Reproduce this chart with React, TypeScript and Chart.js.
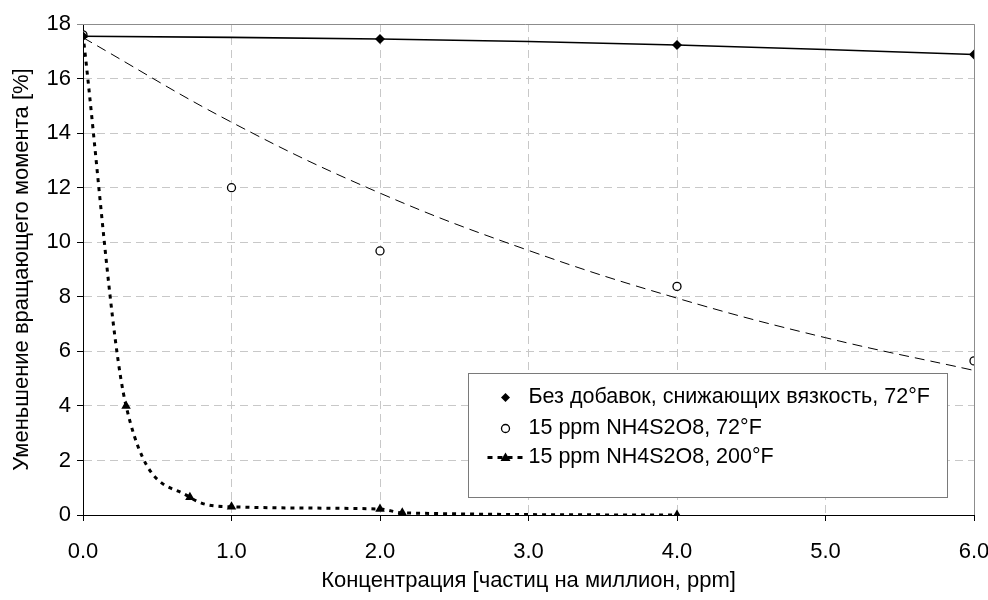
import React, { useEffect, useRef } from "react";
import { Chart, registerables } from "chart.js";

Chart.register(...registerables);

// ---- Data ----
const seriesLabels = [
  "Без добавок, снижающих вязкость, 72°F",
  "15 ppm NH4S2O8, 72°F",
  "15 ppm NH4S2O8, 200°F",
];
const xAxisTitle = "Концентрация [частиц на миллион, ppm]";
const yAxisTitle = "Уменьшение вращающего момента [%]";

const noAdditiveX = [0, 2, 4, 6];
const noAdditiveY = [17.55, 17.45, 17.23, 16.88];

const ppm72X = [0, 1, 2, 4, 6];
const ppm72Y = [17.6, 12.0, 9.68, 8.38, 5.65];

// dashed trend line for the 72°F series, read at each integer
const trend72X = [0, 1, 2, 3, 4, 5, 6];
const trend72Y = [17.5, 14.4, 11.8, 9.7, 7.95, 6.5, 5.3];

const ppm200X = [0, 0.29, 0.72, 1.0, 2.0, 2.15, 4.0];
const ppm200Y = [17.6, 4.0, 0.65, 0.3, 0.22, 0.08, 0.0];

const xMin = 0;
const xMax = 6;
const xStep = 1;
const yMin = 0;
const yMax = 18;
const yStep = 2;

const FONT = "'Liberation Sans Narrow', 'Arial Narrow', 'Liberation Sans', Arial, sans-serif";
const FS = 22;
const LEGEND_FS = 21.5;

const zip = (xs: number[], ys: number[]) => xs.map((x, i) => ({ x, y: ys[i] }));

const frameAndLegend = {
  id: "frameAndLegend",
  afterDraw(chart: any) {
    const { ctx, chartArea: ca } = chart;
    ctx.save();
    // top & right frame in gray
    ctx.strokeStyle = "#8c8c8c";
    ctx.lineWidth = 1;
    ctx.setLineDash([]);
    ctx.beginPath();
    ctx.moveTo(ca.left - 6, Math.round(ca.top) + 0.5);
    ctx.lineTo(Math.round(ca.right) + 0.5, Math.round(ca.top) + 0.5);
    ctx.lineTo(Math.round(ca.right) + 0.5, Math.round(ca.bottom));
    ctx.stroke();

    // legend box
    const w = 479;
    const h = 124;
    const left = Math.round(ca.right - 27 - w) + 0.5;
    const top = Math.round(ca.bottom - 18 - h) + 0.5;
    ctx.fillStyle = "#ffffff";
    ctx.fillRect(left, top, w, h);
    ctx.strokeStyle = "#7a7a7a";
    ctx.strokeRect(left, top, w, h);

    const mx = left + 37;
    const tx = left + 60;
    const rows = [top + 24, top + 55, top + 84];
    ctx.font = `${LEGEND_FS}px ${FONT}`;
    ctx.fillStyle = "#000";
    ctx.textBaseline = "middle";
    ctx.textAlign = "left";

    // row 1: diamond
    const r1 = rows[0];
    ctx.beginPath();
    ctx.moveTo(mx, r1 - 4.5);
    ctx.lineTo(mx + 4.5, r1);
    ctx.lineTo(mx, r1 + 4.5);
    ctx.lineTo(mx - 4.5, r1);
    ctx.closePath();
    ctx.fill();
    ctx.fillText(seriesLabels[0], tx, r1);

    // row 2: open circle
    const r2 = rows[1];
    ctx.beginPath();
    ctx.arc(mx, r2, 4, 0, Math.PI * 2);
    ctx.fillStyle = "#fff";
    ctx.fill();
    ctx.strokeStyle = "#000";
    ctx.lineWidth = 1.3;
    ctx.stroke();
    ctx.fillStyle = "#000";
    ctx.fillText(seriesLabels[1], tx, r2);

    // row 3: dotted line + triangle
    const r3 = rows[2];
    ctx.strokeStyle = "#000";
    ctx.lineWidth = 3;
    ctx.setLineDash([5, 5]);
    ctx.beginPath();
    ctx.moveTo(mx - 18, r3);
    ctx.lineTo(mx + 18, r3);
    ctx.stroke();
    ctx.setLineDash([]);
    ctx.beginPath();
    ctx.moveTo(mx, r3 - 5);
    ctx.lineTo(mx + 5, r3 + 3.5);
    ctx.lineTo(mx - 5, r3 + 3.5);
    ctx.closePath();
    ctx.fill();
    ctx.fillText(seriesLabels[2], tx, r3);
    ctx.restore();
  },
};

export default function App() {
  const ref = useRef<HTMLCanvasElement | null>(null);

  useEffect(() => {
    if (!ref.current) return;
    const chart = new Chart(ref.current, {
      type: "scatter",
      data: {
        datasets: [
          {
            label: seriesLabels[0],
            data: zip(noAdditiveX, noAdditiveY),
            showLine: true,
            borderColor: "#000",
            backgroundColor: "#000",
            borderWidth: 1.6,
            tension: 0.4,
            pointStyle: "rectRot",
            pointRadius: 5,
            pointBorderWidth: 0,
          },
          {
            label: "trend",
            data: zip(trend72X, trend72Y),
            showLine: true,
            borderColor: "#000",
            borderWidth: 1,
            borderDash: [10, 6],
            tension: 0.4,
            pointRadius: 0,
          },
          {
            label: seriesLabels[1],
            data: zip(ppm72X, ppm72Y),
            showLine: false,
            borderColor: "#000",
            backgroundColor: "#fff",
            pointStyle: "circle",
            pointRadius: 4,
            pointBorderWidth: 1.3,
          },
          {
            label: seriesLabels[2],
            data: zip(ppm200X, ppm200Y),
            showLine: true,
            borderColor: "#000",
            backgroundColor: "#000",
            borderWidth: 3,
            borderDash: [4, 5],
            cubicInterpolationMode: "monotone",
            pointStyle: "triangle",
            pointRadius: 5.5,
            pointBorderWidth: 0,
          },
        ],
      },
      options: {
        responsive: false,
        animation: false,
        events: [],
        layout: { padding: { top: 24, right: 14, left: 0, bottom: 0 } },
        plugins: {
          legend: { display: false },
          tooltip: { enabled: false },
          title: { display: false },
        },
        scales: {
          x: {
            type: "linear",
            min: xMin,
            max: xMax,
            afterFit: (s: any) => {
              s.height = 85;
              s.paddingLeft = 0;
              s.paddingRight = 0;
            },
            ticks: {
              stepSize: xStep,
              autoSkip: false,
              maxRotation: 0,
              color: "#000",
              font: { family: FONT, size: FS },
              padding: 18,
              callback: (v: any) => Number(v).toFixed(1),
            },
            grid: {
              color: "#c8c8c8",
              lineWidth: 1,
              tickColor: "#000",
              tickLength: 6,
              tickBorderDash: [],
            },
            border: { display: true, color: "#000", width: 1, dash: [8, 5] },
            title: {
              display: true,
              text: xAxisTitle,
              color: "#000",
              font: { family: FONT, size: FS },
              padding: { top: 4, bottom: 6 },
            },
          },
          y: {
            type: "linear",
            min: yMin,
            max: yMax,
            afterFit: (s: any) => {
              s.width = 83;
            },
            ticks: {
              stepSize: yStep,
              color: "#000",
              font: { family: FONT, size: FS },
              padding: 6,
            },
            grid: {
              color: "#c8c8c8",
              lineWidth: 1,
              tickColor: "#000",
              tickLength: 6,
              tickBorderDash: [],
            },
            border: { display: true, color: "#000", width: 1, dash: [8, 5] },
            title: {
              display: true,
              text: yAxisTitle,
              color: "#000",
              font: { family: FONT, size: FS },
              padding: { top: 9, bottom: 0 },
            },
          },
        },
      },
      plugins: [frameAndLegend],
    } as any);
    return () => chart.destroy();
  }, []);

  return (
    <div style={{ position: "absolute", left: 0, top: 0, width: 988, height: 600, background: "#fff" }}>
      <canvas ref={ref} width={988} height={600} style={{ display: "block", width: 988, height: 600 }} />
    </div>
  );
}
